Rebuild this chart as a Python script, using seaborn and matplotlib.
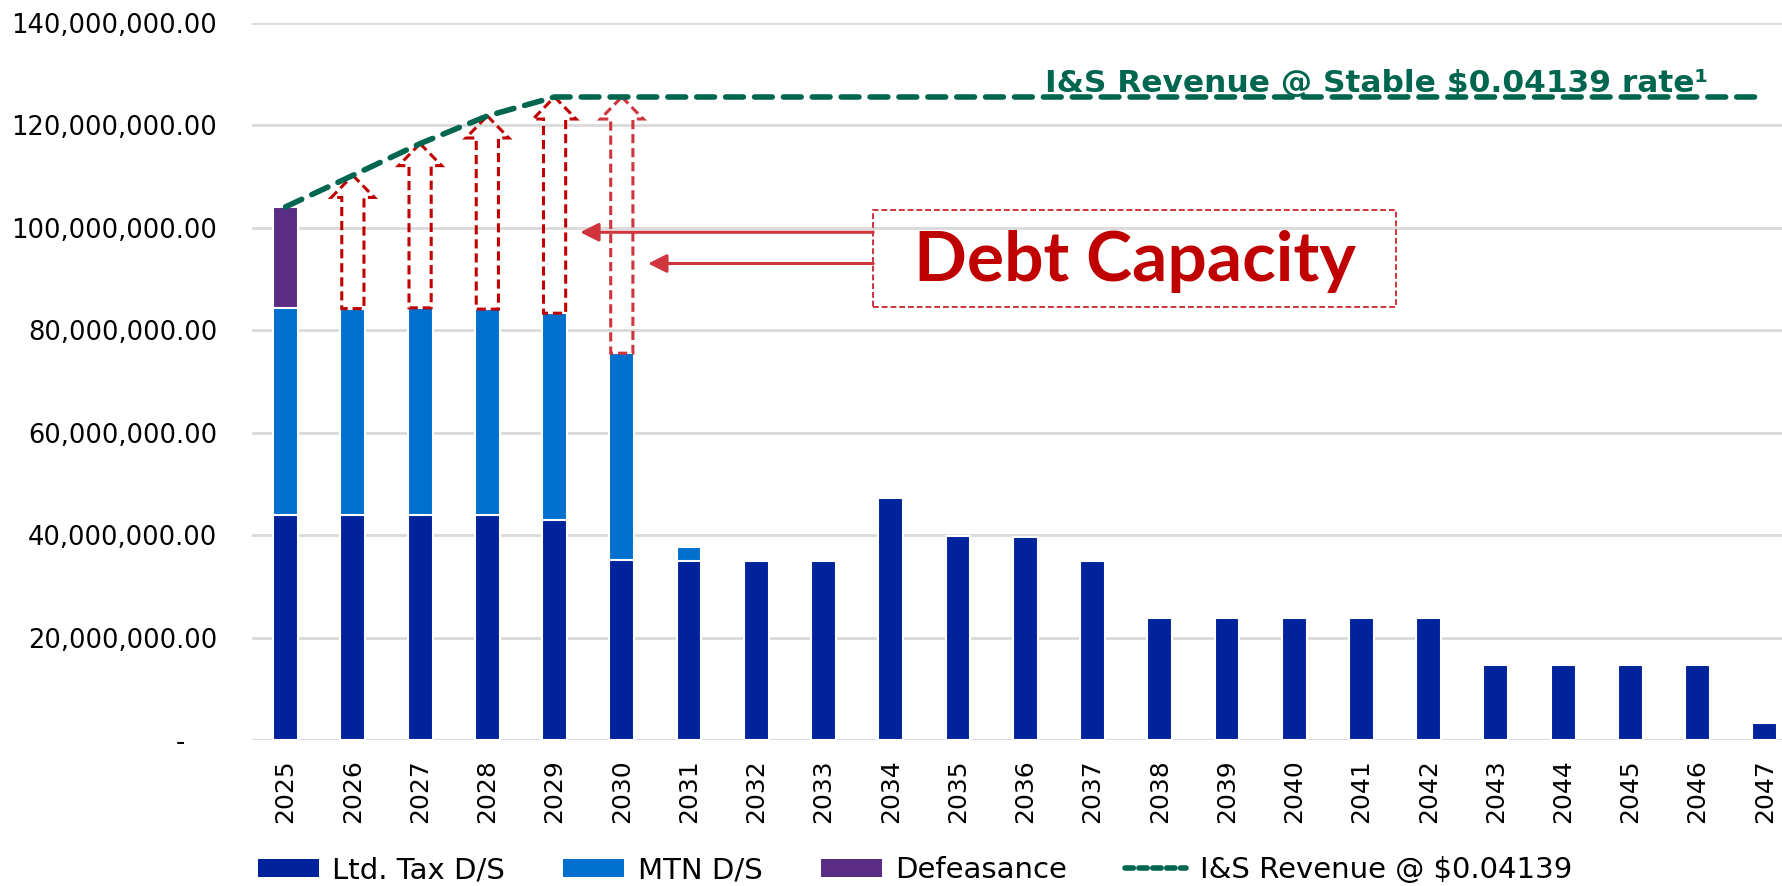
import numpy as np
import matplotlib
matplotlib.use("Agg")
import matplotlib.pyplot as plt
from matplotlib.patches import FancyArrow, Rectangle, Patch
from matplotlib.lines import Line2D
import seaborn as sns

years = [str(y) for y in range(2025, 2048)]
ltd_tax = [43.85, 43.85, 43.85, 43.85, 42.87, 35.06, 35.0, 35.0, 35.0, 47.16,
           39.74, 39.54, 34.86, 23.74, 23.74, 23.74, 23.74, 23.74,
           14.7, 14.7, 14.7, 14.7, 3.25]
mtn = [40.5, 40.35, 40.5, 40.25, 40.43, 40.44, 2.66] + [0.0] * 16
defeasance = [19.7] + [0.0] * 22
revenue = [104.06, 110.2, 116.4, 121.8] + [125.5] * 19
capacity_years = ["2026", "2027", "2028", "2029", "2030"]

# millions -> dollars
ltd_tax = np.array(ltd_tax) * 1e6
mtn = np.array(mtn) * 1e6
defeasance = np.array(defeasance) * 1e6
revenue = np.array(revenue) * 1e6

NAVY = "#00239C"
BLUE = "#0070CE"
PURPLE = "#5B2C83"
GREEN = "#00664F"
RED = "#C00000"
RED2 = "#D0343C"

sns.set_theme(style="white")
plt.rcParams["font.family"] = ["DejaVu Sans"]

fig = plt.figure(figsize=(17.83, 8.86), dpi=100)
ax = fig.add_axes([252 / 1783, 1 - 740 / 886, 1 - 252 / 1783, (740 - 22.7) / 886])

w = 0.37
# stacked bars drawn back to front
sns.barplot(x=years, y=ltd_tax + mtn + defeasance, color=PURPLE, width=w,
            edgecolor="white", linewidth=1.5, saturation=1, ax=ax)
sns.barplot(x=years, y=ltd_tax + mtn, color=BLUE, width=w,
            edgecolor="white", linewidth=1.5, saturation=1, ax=ax)
sns.barplot(x=years, y=ltd_tax, color=NAVY, width=w,
            edgecolor="white", linewidth=1.5, saturation=1, ax=ax)

pos = np.arange(len(years))
ax.plot(pos, revenue, color=GREEN, lw=4, ls=(0, (3.2, 2.0)),
        dash_capstyle="round", zorder=5)

# hollow dashed "capacity" arrows
for yr in capacity_years:
    i = years.index(yr)
    base = ltd_tax[i] + mtn[i]
    col = RED if yr != "2030" else RED2
    arr = FancyArrow(i, base, 0, revenue[i] - base, width=0.33, head_width=0.64,
                     head_length=4.3e6, length_includes_head=True, fill=False,
                     edgecolor=col, linestyle=(0, (3, 1.6)), linewidth=2.2, zorder=4)
    ax.add_patch(arr)

# Debt Capacity call-out
box_x0, box_x1 = 8.74, 16.52
box_y0, box_y1 = 84.5e6, 103.4e6
ax.add_patch(Rectangle((box_x0, box_y0), box_x1 - box_x0, box_y1 - box_y0,
                       fill=False, edgecolor=RED2, linestyle=(0, (3, 1.5)),
                       linewidth=1.4, zorder=4))
ax.text((box_x0 + box_x1) / 2, 93.3e6, "Debt Capacity",
        ha="center", va="center", color=RED, fontsize=50, fontweight="bold",
        family=["Lato", "DejaVu Sans"], zorder=6)
for tip_x, y in [(4.38, 99.1e6), (5.39, 93.0e6)]:
    ax.annotate("", xy=(tip_x, y), xytext=(box_x0, y),
                arrowprops=dict(arrowstyle="-|>", color=RED2, lw=2.2,
                                mutation_scale=28, shrinkA=0, shrinkB=0),
                zorder=6)

ax.text(16.22, 126.4e6, "I&S Revenue @ Stable $0.04139 rate\u00b9", ha="center",
        va="baseline", color=GREEN, fontsize=22.5, fontweight="bold", zorder=6)

ax.set_ylim(0, 140e6)
ax.set_xlim(-0.5, 22.27)
ax.set_yticks(np.arange(0, 140e6 + 1, 20e6))
ax.set_yticklabels(["-    "] + [f"{v:,.2f}" for v in np.arange(20e6, 140e6 + 1, 20e6)])
ax.tick_params(axis="y", labelsize=18.5, pad=25, length=0, colors="black")
ax.tick_params(axis="x", labelsize=18, rotation=90, pad=14, length=0, colors="black")
ax.set_xlabel("")
ax.set_ylabel("")
ax.set_axisbelow(True)
ax.yaxis.grid(True, color="#D9D9D9", lw=2)
for s in ax.spines.values():
    s.set_visible(False)

handles = [
    Patch(facecolor=NAVY, edgecolor="none", label="Ltd. Tax D/S"),
    Patch(facecolor=BLUE, edgecolor="none", label="MTN D/S"),
    Patch(facecolor=PURPLE, edgecolor="none", label="Defeasance"),
    Line2D([0], [0], color=GREEN, lw=4, ls=(0, (1.5, 1.0)), dash_capstyle="round",
           label="I&S Revenue @ $0.04139"),
]
leg = fig.legend(handles=handles, loc="center", bbox_to_anchor=(0.513, 0.018), ncol=4,
                 frameon=False, fontsize=21, handlelength=2.1, handleheight=0.6,
                 handletextpad=0.45, columnspacing=2.0)
for t in leg.get_texts():
    t.set_color("black")

fig.savefig("out.png", dpi=100)
